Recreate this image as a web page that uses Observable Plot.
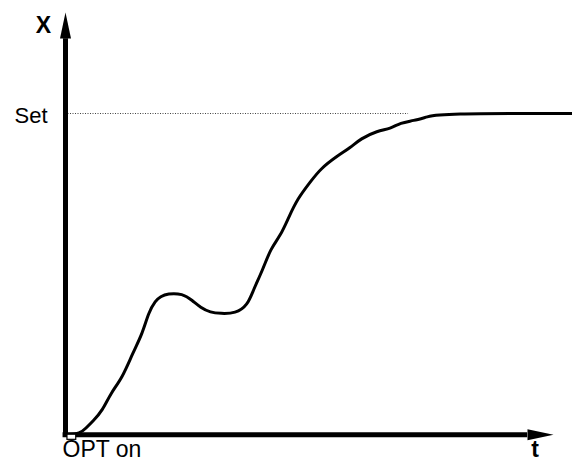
<!DOCTYPE html>
<html>
<head>
<meta charset="utf-8">
<script src="https://cdn.jsdelivr.net/npm/d3@7"></script>
<script src="https://cdn.jsdelivr.net/npm/@observablehq/plot@0.6"></script>
<style>
  html, body { margin: 0; padding: 0; background: #fff; }
  #chart { width: 572px; height: 463px; }
</style>
</head>
<body>
<div id="chart"></div>
<script>
// Response curve: time (t, % of axis length) vs process value X (% of setpoint)
const tValues = [0, 3.07, 4.10, 5.74, 7.58, 9.22, 11.68, 13.73, 15.78, 17.01, 18.44, 19.47, 20.90, 23.98, 26.02, 27.66, 29.71, 31.76, 34.84, 37.30, 38.52, 40.37, 42.01, 44.06, 45.70, 47.54, 50.20, 52.25, 55.74, 58.40, 60.45, 63.93, 66.60, 68.65, 71.31, 74.18, 76.84, 103.9];
const xValues = [0, 0.37, 1.93, 4.42, 7.53, 12.83, 17.81, 25.28, 31.51, 38.04, 41.78, 43.02, 43.96, 43.96, 41.78, 39.60, 38.04, 37.73, 37.73, 40.22, 45.20, 51.12, 57.91, 61.96, 67.56, 73.47, 78.77, 82.81, 86.86, 89.35, 92.15, 94.64, 95.27, 97.13, 97.76, 99.00, 100, 100];
const setLevel = 100;
const setLineEnd = 70.3;
const setLabel = "Set";
const yAxisLabel = "X";
const xAxisLabel = "t";
const startLabel = "OPT on";
const xMax = 100;
const yMax = 131.45;

const curve = tValues.map((t, i) => ({t, x: xValues[i]}));

const arrowUp = {
  draw(ctx) {
    ctx.moveTo(0, 0);
    ctx.lineTo(5.5, 26);
    ctx.lineTo(-5.5, 26);
    ctx.closePath();
  }
};

const font = "'Liberation Sans', Arial, Helvetica, sans-serif";

const plot = Plot.plot({
  width: 572,
  height: 463,
  marginLeft: 65,
  marginRight: 19,
  marginTop: 12,
  marginBottom: 28.8,
  style: {fontFamily: font, background: "#fff", overflow: "visible"},
  x: {domain: [0, xMax], axis: null},
  y: {domain: [0, yMax], axis: null},
  marks: [
    Plot.text([setLabel], {x: 0, y: setLevel, text: d => d, dx: -18, dy: 2, fontSize: 22, fill: "#000", textAnchor: "end"}),
    Plot.ruleY([setLevel], {x1: 0, x2: setLineEnd, stroke: "#444", strokeWidth: 1, strokeDasharray: "1,1.5"}),
    Plot.line(curve, {x: "t", y: "x", stroke: "#000", strokeWidth: 3, curve: "basis", strokeLinejoin: "round"}),
    Plot.ruleX([0], {y1: -0.8, y2: 123.3, stroke: "#000", strokeWidth: 5}),
    Plot.ruleY([0], {x1: -0.5, x2: 94.7, stroke: "#000", strokeWidth: 5}),
    Plot.dot([{x: 0, y: yMax}], {x: "x", y: "y", symbol: arrowUp, fill: "#000", stroke: null}),
    Plot.dot([{x: xMax, y: 0}], {x: "x", y: "y", symbol: arrowUp, fill: "#000", stroke: null, rotate: 90}),
    Plot.rect([{x1: 0.4, x2: 2.2, y1: -1.6, y2: 0}], {x1: "x1", x2: "x2", y1: "y1", y2: "y2", fill: "#fff", stroke: "#000", strokeWidth: 1.2}),
    Plot.text([yAxisLabel], {x: -4.5, y: 127.5, text: d => d, fontSize: 23, fontWeight: "bold", fill: "#000", textAnchor: "middle"}),
    Plot.text([xAxisLabel], {x: 96.2, y: -4.5, text: d => d, fontSize: 23, fontWeight: "bold", fill: "#000", textAnchor: "middle"}),
    Plot.text([startLabel], {x: -0.6, y: -4.5, text: d => d, fontSize: 23, fill: "#000", textAnchor: "start"})
  ]
});
document.getElementById("chart").appendChild(plot);
</script>
</body>
</html>
